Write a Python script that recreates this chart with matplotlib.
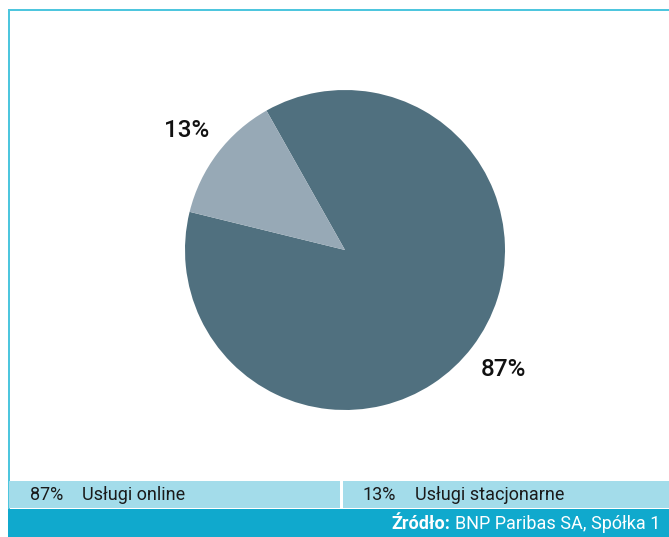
import matplotlib
matplotlib.use("Agg")
import matplotlib.pyplot as plt
from matplotlib.patches import Rectangle
from matplotlib import font_manager

categories = ["Usługi online", "Usługi stacjonarne"]
values = [87, 13]
slice_colors = ["#50707f", "#97a9b6"]
source_bold = "Źródło:"
source_text = "BNP Paribas SA, Spółka 1"

names = {f.name for f in font_manager.fontManager.ttflist}
narrow = "Liberation Sans Narrow" if "Liberation Sans Narrow" in names else "Roboto"

W, H = 669, 537
fig = plt.figure(figsize=(W / 100, H / 100), dpi=100)

# background / decoration axes in pixel coordinates (y down)
bg = fig.add_axes([0, 0, 1, 1])
bg.set_xlim(0, W)
bg.set_ylim(H, 0)
bg.axis("off")

cyan_line = "#4ec6de"
bg.add_patch(Rectangle((8, 9), 2.2, 500, color=cyan_line, lw=0))
bg.add_patch(Rectangle((8, 9), W, 2.2, color=cyan_line, lw=0))
# legend bar
bg.add_patch(Rectangle((9, 481), W, 27, color="#a3dcea", lw=0))
bg.add_patch(Rectangle((340, 481), 2.5, 27, color="white", lw=0))
# footer
bg.add_patch(Rectangle((8, 509), W, 30, color="#10a9cd", lw=0))

leg_x = [30, 363]
for i, (cat, v) in enumerate(zip(categories, values)):
    bg.text(leg_x[i], 494.5, f"{v}%", fontsize=13, family=[narrow, "DejaVu Sans"],
            color="#1a1a1a", va="center", ha="left")
    bg.text(leg_x[i] + 52, 494.5, cat, fontsize=13, family=[narrow, "DejaVu Sans"],
            color="#1a1a1a", va="center", ha="left")

t2 = bg.text(660, 524, source_text, fontsize=13, family=[narrow, "DejaVu Sans"],
             color="white", va="center", ha="right")
fig.canvas.draw()
bb = t2.get_window_extent()
x_left = bb.x0
bg.text(x_left - 4, 524, source_bold, fontsize=13, family=[narrow, "DejaVu Sans"],
        fontweight="bold", color="white", va="center", ha="right")

# pie
cx, cy, r = 345, 250, 160
ax = fig.add_axes([(cx - r) / W, 1 - (cy + r) / H, 2 * r / W, 2 * r / H])
wedges, texts = ax.pie(values, colors=slice_colors, startangle=166.2, counterclock=True,
                       labels=[f"{v}%" for v in values], labeldistance=1.24,
                       textprops=dict(fontsize=17.5, family=["Roboto", "DejaVu Sans"],
                                      fontweight="medium", color="#111111"),
                       wedgeprops=dict(linewidth=0))
for t in texts:
    t.set_ha("center")
    t.set_va("center")
ax.set_xlim(-1, 1)
ax.set_ylim(-1, 1)
ax.set_aspect("auto")

fig.savefig("out.png", dpi=100)
